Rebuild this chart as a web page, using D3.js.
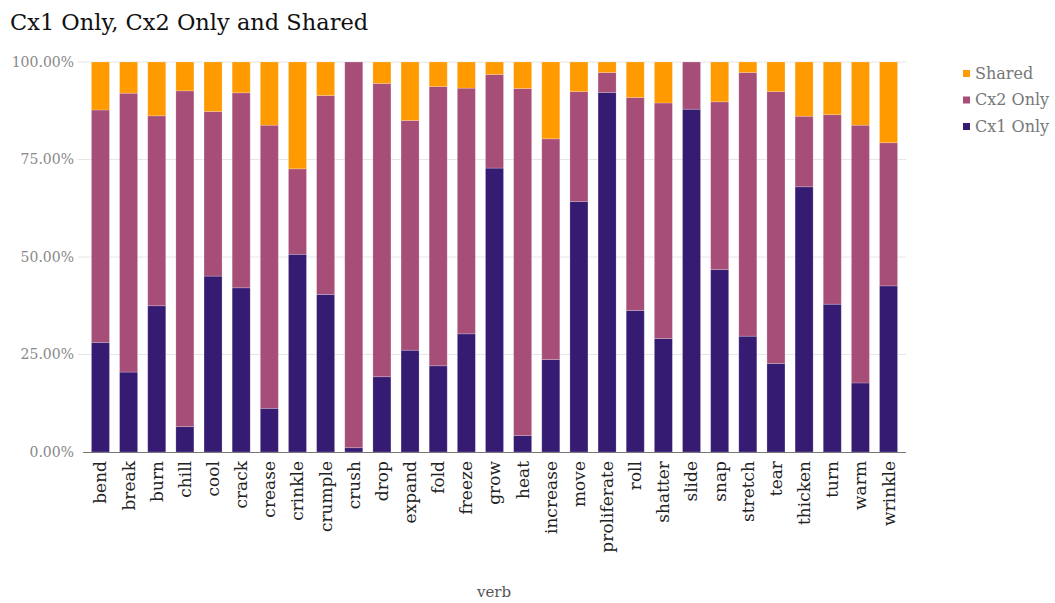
<!DOCTYPE html>
<html><head><meta charset="utf-8">
<script src="https://cdn.jsdelivr.net/npm/d3@7"></script>
<style>body{margin:0;background:#fff}svg{display:block}</style>
</head><body>
<div id="chart"></div>
<script>
const verbs = ["bend","break","burn","chill","cool","crack","crease","crinkle","crumple","crush","drop","expand","fold","freeze","grow","heat","increase","move","proliferate","roll","shatter","slide","snap","stretch","tear","thicken","turn","warm","wrinkle"];
const cx1Only = [28.1,20.5,37.5,6.5,45.1,42.1,11.2,50.7,40.4,1.1,19.3,26.1,22.1,30.3,72.8,4.2,23.7,64.2,92.2,36.3,29.1,87.9,46.8,29.7,22.7,68.0,37.9,17.7,42.6];
const cx2Only = [59.6,71.5,48.7,86.1,42.2,50.0,72.6,21.9,51.0,98.9,75.2,58.9,71.6,63.0,24.0,89.0,56.6,28.2,5.1,54.6,60.4,12.1,43.0,67.6,69.7,18.1,48.6,66.1,36.7];
const shared  = [12.3,8.0,13.8,7.4,12.7,7.9,16.2,27.4,8.6,0.0,5.5,15.0,6.3,6.7,3.2,6.8,19.7,7.6,2.7,9.1,10.5,0.0,10.2,2.7,7.6,13.9,13.5,16.2,20.7];
const seriesNames = ["Cx1 Only","Cx2 Only","Shared"];
const seriesColors = ["#361b73","#a64e78","#ff9a00"];
const yTicks = [0,25,50,75,100];

const W = 1055, H = 603;
const FONT = "Georgia, 'DejaVu Serif', serif";
const svg = d3.select("#chart").append("svg").attr("width", W).attr("height", H).style("font-family", FONT);

const rows = verbs.map((v,i)=>({verb:v, "Cx1 Only":cx1Only[i], "Cx2 Only":cx2Only[i], "Shared":shared[i]}));
const stack = d3.stack().keys(seriesNames)(rows);

const x = d3.scaleBand().domain(verbs).range([83, 906]).paddingInner(0.36).paddingOuter(0.3);
const y = d3.scaleLinear().domain([0,100]).range([452, 62]);
const color = d3.scaleOrdinal().domain(seriesNames).range(seriesColors);

// gridlines
svg.append("g").selectAll("line").data(yTicks.filter(t=>t>0)).join("line")
  .attr("x1", 78).attr("x2", 906).attr("y1", d=>y(d)).attr("y2", d=>y(d))
  .attr("stroke", "#e6e6e6").attr("stroke-width", 1);

// y axis labels
const yAxis = d3.axisLeft(y).tickValues(yTicks).tickFormat(d=>d3.format(".2f")(d)+"%").tickSize(0).tickPadding(8);
const gy = svg.append("g").attr("transform","translate(82,0)").call(yAxis);
gy.select(".domain").remove();
gy.selectAll("text").attr("fill","#888").style("font-size","14px").style("font-family", FONT);

// bars
svg.append("g").selectAll("g").data(stack).join("g")
  .attr("fill", d=>color(d.key))
  .selectAll("rect").data(d=>d).join("rect")
  .attr("x", d=>x(d.data.verb)).attr("width", x.bandwidth())
  .attr("y", d=>y(d[1])).attr("height", d=>Math.max(0, y(d[0])-y(d[1])))
  .attr("stroke", "rgba(255,255,255,0.25)").attr("stroke-width", 0.8);

// x axis
const xAxis = d3.axisBottom(x).tickSize(0).tickPadding(0);
const gx = svg.append("g").attr("transform","translate(0,452)").call(xAxis);
gx.select(".domain").attr("stroke","#777").attr("d","M83,0.5H906");
gx.selectAll("text")
  .attr("transform","rotate(-90)").attr("text-anchor","end")
  .attr("x", -9).attr("y", 0).attr("dy","0.35em")
  .attr("fill","#222").style("font-size","17px").style("font-family", FONT);

// x title
svg.append("text").attr("x", 494).attr("y", 597).attr("text-anchor","middle")
  .attr("fill","#555").style("font-size","15px").text("verb");

// title
svg.append("text").attr("x", 10).attr("y", 30).attr("fill","#111")
  .style("font-size","22.5px").text("Cx1 Only, Cx2 Only and Shared");

// legend
const legendOrder = ["Shared","Cx2 Only","Cx1 Only"];
const lg = svg.append("g").selectAll("g").data(legendOrder).join("g")
  .attr("transform",(d,i)=>`translate(963,${73 + i*26.5})`);
lg.append("rect").attr("x",0).attr("y",-3).attr("width",7).attr("height",7).attr("fill", d=>color(d));
lg.append("text").attr("x",12).attr("y",0).attr("dy","0.35em").attr("fill","#777")
  .style("font-size","16px").text(d=>d);
</script>
</body></html>
